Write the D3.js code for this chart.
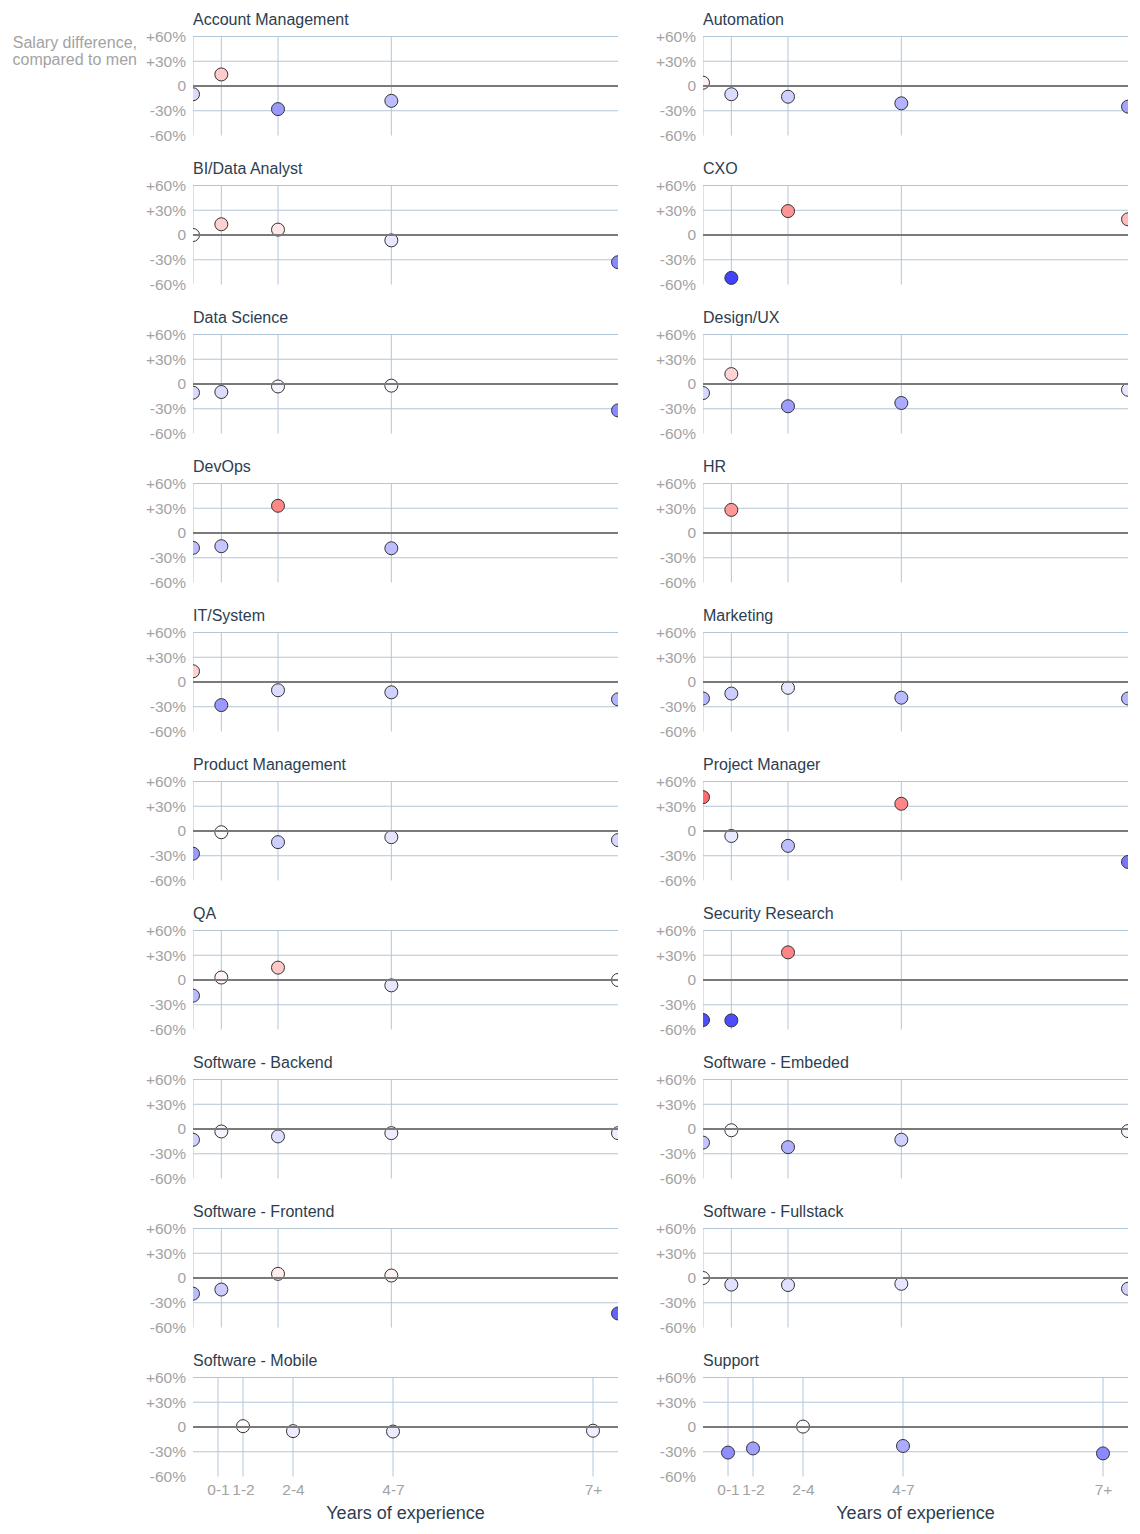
<!DOCTYPE html>
<html>
<head>
<meta charset="utf-8">
<script src="https://cdn.jsdelivr.net/npm/d3@7"></script>
<style>
  body { margin: 0; background: #fff; }
  svg { font-family: "Liberation Sans", Arial, sans-serif; }
</style>
</head>
<body>
<script>
// experience buckets (x categories)
var experience = ["0-1", "1-2", "2-4", "4-7", "7+"]

// job roles, one small panel each
var roles = [
  "Account Management", "Automation",
  "BI/Data Analyst", "CXO",
  "Data Science", "Design/UX",
  "DevOps", "HR",
  "IT/System", "Marketing",
  "Product Management", "Project Manager",
  "QA", "Security Research",
  "Software - Backend", "Software - Embeded",
  "Software - Frontend", "Software - Fullstack",
  "Software - Mobile", "Support"
]

// salary difference of women vs men, in %, per experience bucket (null = no data)
var salaryGap = [
  [-10, 14, -28, -18, null],
  [4, -10, -13, -21, -25],
  [0, 13, 6.5, -6.5, -33],
  [null, -52, 29, null, 19],
  [-10.5, -9.7, -3, -2, -32],
  [-11, 12, -27, -23, -7],
  [-18, -16, 33, -18.5, null],
  [null, 28, null, null, null],
  [13, -28, -10, -12.5, -21],
  [-20, -14, -7, -19, -20],
  [-27.5, -1.5, -13.5, -7.5, -11],
  [41, -6, -18, 33, -37.5],
  [-19, 3, 15, -6.5, 0],
  [-48.5, -49, 33.5, null, null],
  [-13, -3, -9, -5, -5],
  [-16.5, -1.5, -22, -13, -2.5],
  [-19, -14, 5, 3, -43],
  [0, -8, -8.5, -7, -13],
  [null, 1, -5, -5.5, -4.5],
  [-31, -26, 0.5, -23, -32]
]

var yTicks = [60, 30, 0, -30, -60]

var W = 1140, H = 1534
  , colLeft = [193, 703]
  , plotW = 425, plotH = 99
  , firstTop = 36.5, rowStep = 149
  , nCols = 2, nRows = Math.ceil(roles.length / nCols)
  , titleColor = '#2c3e50', mutedColor = '#a3a3a3', gridColor = '#b3c6d6'

var svg = d3.select('body').append('svg')
  .attr('width', W).attr('height', H)

var y = d3.scaleLinear().domain([-60, 60]).range([plotH, 0])
// buckets are spaced by doubling widths; the bottom row gets a padded domain
var xInner = d3.scaleLinear().domain([1, 16]).range([0, plotW])
  , xOuter = d3.scaleLinear().domain([0, 17]).range([0, plotW])
  , pos = function(i){ return Math.pow(2, i) }
var color = d3.scaleLinear().domain([-70, 0, 70])
  .range(['#0000ff', '#ffffff', '#ff0000']).clamp(true)

var fmt = function(d){ return d > 0 ? '+' + d + '%' : d < 0 ? d + '%' : '0' }

svg.append('defs').append('clipPath').attr('id', 'plot-clip')
  .append('rect').attr('x', 0).attr('y', -20).attr('width', plotW).attr('height', plotH + 40)

// y axis caption
svg.append('text')
  .attr('text-anchor', 'end')
  .attr('fill', mutedColor)
  .style('font-size', '16px')
  .selectAll('tspan')
  .data(['Salary difference,', 'compared to men'])
  .enter().append('tspan')
    .attr('x', 137)
    .attr('y', function(d, i){ return 48 + i * 17 })
    .text(function(d){ return d })

roles.forEach(function(role, i){
  var col = i % nCols, row = Math.floor(i / nCols)
    , last = row === nRows - 1
    , x = last ? xOuter : xInner
    , g = svg.append('g')
        .attr('transform', 'translate(' + colLeft[col] + ',' + (firstTop + row * rowStep) + ')')

  g.append('text')
    .attr('x', 0).attr('y', -12)
    .attr('fill', titleColor)
    .style('font-size', '16px')
    .text(role)

  // horizontal grid (zero line drawn separately)
  g.append('g').selectAll('line')
    .data(yTicks.filter(function(d){ return d !== 0 && d !== -60 }))
    .enter().append('line')
      .attr('x1', 0).attr('x2', plotW)
      .attr('y1', function(d){ return y(d) }).attr('y2', function(d){ return y(d) })
      .attr('stroke', gridColor).attr('stroke-width', 1)

  var plot = g.append('g').attr('clip-path', 'url(#plot-clip)')

  // vertical grid at each bucket (none on the right edge)
  plot.append('g').selectAll('line')
    .data(experience.map(function(d, j){ return x(pos(j)) })
      .filter(function(px){ return px < plotW - 1 }))
    .enter().append('line')
      .attr('x1', function(px){ return px }).attr('x2', function(px){ return px })
      .attr('y1', y(60)).attr('y2', y(-60))
      .attr('stroke', gridColor).attr('stroke-width', 1)

  g.append('line')
    .attr('x1', 0).attr('x2', plotW)
    .attr('y1', y(0)).attr('y2', y(0))
    .attr('stroke', '#7a7a7a').attr('stroke-width', 2)

  var yAxis = g.append('g')
    .call(d3.axisLeft(y).tickValues(yTicks).tickSize(0).tickPadding(7).tickFormat(fmt))
  yAxis.select('.domain').remove()
  yAxis.selectAll('text')
    .attr('fill', mutedColor)
    .style('font-size', '15.5px')
    .style('font-family', '"Liberation Sans", Arial, sans-serif')

  var pts = salaryGap[i].map(function(v, j){ return { bucket: j, value: v } })
    .filter(function(d){ return d.value !== null })

  plot.selectAll('circle')
    .data(pts)
    .enter().append('circle')
      .attr('cx', function(d){ return x(pos(d.bucket)) })
      .attr('cy', function(d){ return y(d.value) })
      .attr('r', 6.5)
      .attr('fill', function(d){ return color(d.value) })
      .attr('stroke', '#333').attr('stroke-width', 1)

  if (last) {
    var xAxis = g.append('g')
      .attr('transform', 'translate(0,' + plotH + ')')
      .call(d3.axisBottom(x)
        .tickValues(experience.map(function(d, j){ return pos(j) }))
        .tickFormat(function(d, j){ return experience[j] })
        .tickSize(0).tickPadding(7))
    xAxis.select('.domain').remove()
    xAxis.selectAll('text')
      .attr('fill', mutedColor)
      .style('font-size', '15.5px')
      .style('font-family', '"Liberation Sans", Arial, sans-serif')

    g.append('text')
      .attr('x', plotW / 2).attr('y', plotH + 42)
      .attr('text-anchor', 'middle')
      .attr('fill', titleColor)
      .style('font-size', '18px')
      .text('Years of experience')
  }
})
</script>
</body>
</html>
